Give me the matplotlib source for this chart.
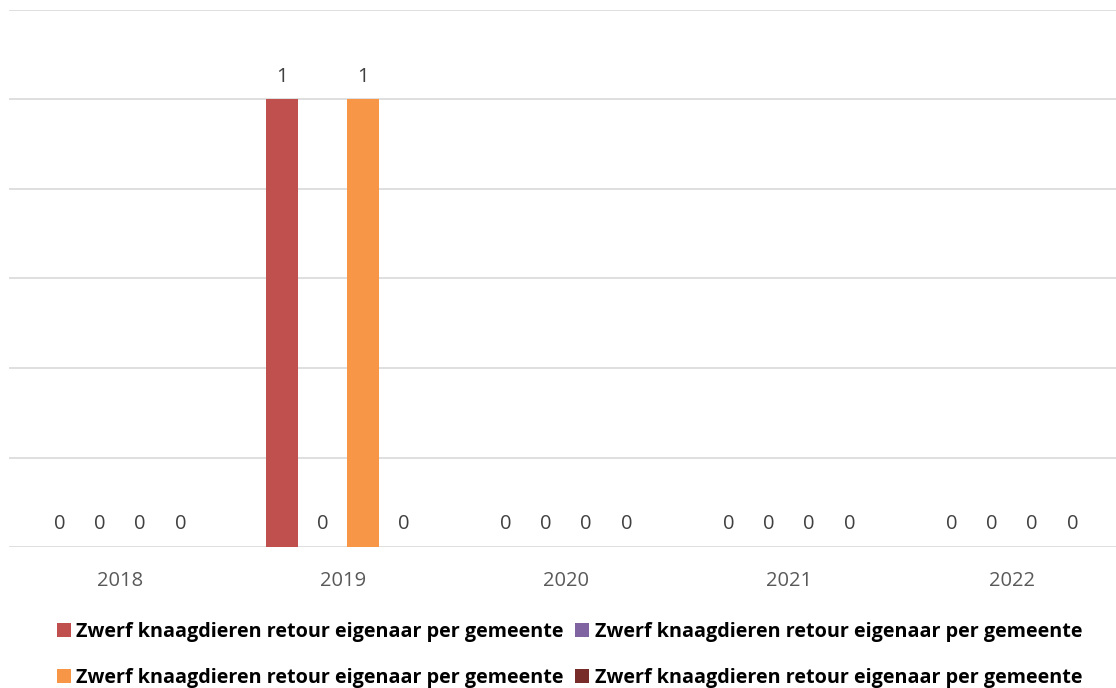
import numpy as np
import matplotlib.pyplot as plt

plt.rcParams['font.family'] = ['Open Sans', 'DejaVu Sans']

# Data
years = ["2018", "2019", "2020", "2021", "2022"]
series_names = ["Zwerf knaagdieren retour eigenaar per gemeente"] * 4
values = [
    [0, 1, 0, 0, 0],
    [0, 0, 0, 0, 0],
    [0, 1, 0, 0, 0],
    [0, 0, 0, 0, 0],
]
colors = ["#C0504D", "#8064A2", "#F79646", "#772C2A"]

W, H = 1116, 688
fig = plt.figure(figsize=(W / 100, H / 100), dpi=100)
ax = fig.add_axes([8.5 / W, 1 - 547 / H, 1115 / W, 537 / H])

x = np.arange(len(years))
step = 0.1815
bw = 0.1435
handles = []
for i, (vals, col) in enumerate(zip(values, colors)):
    pos = x + (i - 1.5) * step
    b = ax.bar(pos, vals, width=bw, color=col, label=series_names[i], zorder=2)
    handles.append(b)
    for px, v in zip(pos, vals):
        ax.text(px, v + 0.029, str(v), ha="center", va="bottom",
                fontsize=14.5, color="#404040")

ax.set_xlim(-0.5, len(years) - 0.5)
ax.set_ylim(0, 1.2)
ax.set_yticks(np.arange(0, 1.21, 0.2))
ax.yaxis.grid(True, color="#D9D9D9", linewidth=1.2, zorder=0)
ax.set_axisbelow(True)
ax.tick_params(axis="y", length=0, labelleft=False)
ax.tick_params(axis="x", length=0, pad=17, labelsize=14.5, labelcolor="#595959")
ax.set_xticks(x)
ax.set_xticklabels(years)
for s in ax.spines.values():
    s.set_visible(False)

order = [0, 2, 1, 3]
leg = fig.legend([handles[i] for i in order], [series_names[i] for i in order],
                 loc="center", bbox_to_anchor=(569.5 / W, 1 - 655 / H), ncol=2,
                 frameon=False, prop={"weight": "bold", "size": 14.2},
                 handlelength=0.69, handleheight=0.69, handletextpad=0.3,
                 columnspacing=0.56, labelspacing=1.3, borderpad=0.2)

fig.savefig("out.png", dpi=100)
